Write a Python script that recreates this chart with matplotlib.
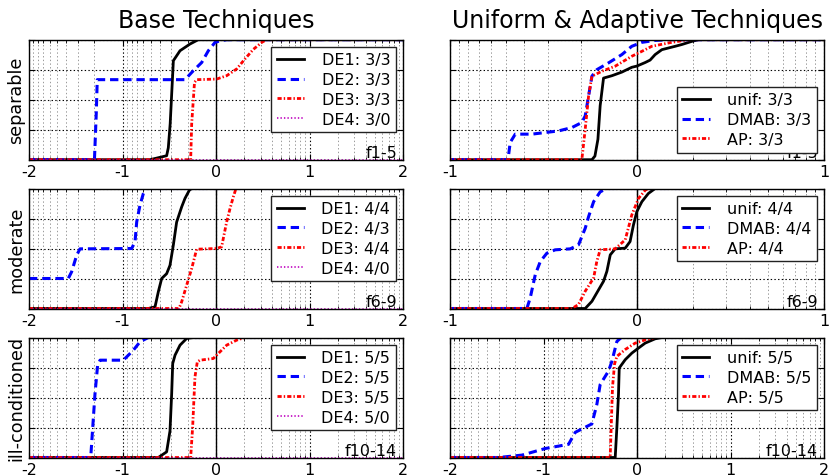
import numpy as np
import matplotlib
matplotlib.use("Agg")
import matplotlib.pyplot as plt

plt.rcParams['font.family'] = ['DejaVu Sans']
plt.rcParams['axes.unicode_minus'] = False
plt.rcParams['lines.scale_dashes'] = False

# ---------------- data (log10 ratio, proportion) ----------------
row_labels = ["separable", "moderate", "ill-conditioned"]
row_tags = ["f1-5", "f6-9", "f10-14"]
col_titles = ["Base Techniques", "Uniform & Adaptive Techniques"]
left_xlims = [(-2, 2), (-2, 2), (-2, 2)]
right_xlims = [(-1, 1), (-1, 1), (-2, 2)]

base_names = ["DE1", "DE2", "DE3", "DE4"]
adapt_names = ["unif", "DMAB", "AP"]
base_counts = [["3/3", "3/3", "3/3", "3/0"],
               ["4/4", "4/3", "4/4", "4/0"],
               ["5/5", "5/5", "5/5", "5/0"]]
adapt_counts = [["3/3", "3/3", "3/3"],
                ["4/4", "4/4", "4/4"],
                ["5/5", "5/5", "5/5"]]

# separable, base
sep_de1_x = [-2.0, -0.706, -0.528, -0.51, -0.49, -0.456, -0.385, -0.278, -0.19, 2.0]
sep_de1_y = [0.0, 0.0, 0.033, 0.10, 0.30, 0.825, 0.908, 0.964, 1.0, 1.0]
sep_de2_x = [-2.0, -1.30, -1.28, -1.27, -0.332, -0.242, -0.153, -0.082, -0.01, 0.043, 0.114, 2.0]
sep_de2_y = [0.0, 0.0, 0.40, 0.667, 0.667, 0.742, 0.81, 0.908, 0.978, 0.99, 1.0, 1.0]
sep_de3_x = [-2.0, -0.271, -0.26, -0.23, -0.207, 0.007, 0.114, 0.221, 0.31, 0.40, 0.49, 0.54, 2.0]
sep_de3_y = [0.0, 0.0, 0.30, 0.644, 0.667, 0.672, 0.70, 0.756, 0.84, 0.92, 0.978, 1.0, 1.0]
sep_de4_x = [-2.0, 2.0]
sep_de4_y = [0.0, 0.0]

# moderate, base
mod_de1_x = [-2.0, -0.724, -0.652, -0.617, -0.581, -0.528, -0.492, -0.456, -0.421, -0.367, -0.332, -0.285, -0.26, 2.0]
mod_de1_y = [0.0, 0.0, 0.014, 0.139, 0.25, 0.29, 0.36, 0.53, 0.72, 0.847, 0.917, 0.986, 1.0, 1.0]
mod_de2_x = [-2.0, -1.58, -1.544, -1.49, -1.455, -0.902, -0.866, -0.848, -0.813, -0.777, -0.749, 2.0]
mod_de2_y = [0.25, 0.25, 0.306, 0.444, 0.497, 0.50, 0.556, 0.722, 0.861, 0.958, 1.0, 1.0]
mod_de3_x = [-2.0, -0.396, -0.367, -0.314, -0.26, -0.207, 0.007, 0.06, 0.114, 0.15, 0.185, 0.214, 2.0]
mod_de3_y = [0.0, 0.0, 0.056, 0.194, 0.333, 0.494, 0.50, 0.514, 0.722, 0.833, 0.93, 1.0, 1.0]
mod_de4_x = [-2.0, 2.0]
mod_de4_y = [0.0, 0.0]

# ill-conditioned, base
ill_de1_x = [-2.0, -0.617, -0.528, -0.492, -0.474, -0.463, -0.438, -0.385, -0.314, -0.242, 2.0]
ill_de1_y = [0.0, 0.0, 0.047, 0.222, 0.533, 0.783, 0.853, 0.936, 0.992, 1.0, 1.0]
ill_de2_x = [-2.0, -1.34, -1.294, -1.266, -1.24, -0.991, -0.884, -0.813, -0.724, 2.0]
ill_de2_y = [0.0, 0.0, 0.533, 0.769, 0.811, 0.811, 0.894, 0.964, 1.0, 1.0]
ill_de3_x = [-2.0, -0.271, -0.25, -0.225, -0.2, -0.171, -0.029, 0.007, 0.114, 0.221, 0.31, 2.0]
ill_de3_y = [0.0, 0.0, 0.25, 0.672, 0.797, 0.811, 0.825, 0.853, 0.936, 0.978, 1.0, 1.0]
ill_de4_x = [-2.0, 2.0]
ill_de4_y = [0.0, 0.0]

# separable, adaptive
sep_unif_x = [-2.0, -0.241, -0.225, -0.209, -0.197, -0.179, -0.134, -0.081, -0.028, -0.001, 0.044, 0.07, 0.097, 0.133, 0.204, 0.24, 0.293, 0.329, 2.0]
sep_unif_y = [0.0, 0.0, 0.03, 0.17, 0.45, 0.68, 0.70, 0.73, 0.77, 0.78, 0.81, 0.83, 0.876, 0.917, 0.945, 0.96, 0.986, 1.0, 1.0]
sep_dmab_x = [-2.0, -0.69, -0.678, -0.651, -0.562, -0.419, -0.348, -0.295, -0.277, -0.259, -0.241, -0.215, -0.152, -0.081, -0.028, 0.026, 0.097, 0.168, 2.0]
sep_dmab_y = [0.0, 0.0, 0.144, 0.213, 0.213, 0.24, 0.268, 0.31, 0.365, 0.53, 0.696, 0.75, 0.807, 0.876, 0.945, 0.978, 0.994, 1.0, 1.0]
sep_ap_x = [-2.0, -0.295, -0.277, -0.259, -0.241, -0.188, -0.117, -0.028, 0.026, 0.079, 0.186, 0.275, 2.0]
sep_ap_y = [0.0, 0.0, 0.254, 0.53, 0.696, 0.737, 0.779, 0.862, 0.903, 0.945, 0.978, 1.0, 1.0]

# moderate, adaptive
mod_unif_x = [-2.0, -0.277, -0.241, -0.215, -0.179, -0.161, -0.143, -0.117, -0.063, -0.037, -0.019, -0.001, 0.026, 0.061, 0.097, 2.0]
mod_unif_y = [0.0, 0.0, 0.06, 0.13, 0.227, 0.31, 0.447, 0.497, 0.503, 0.558, 0.696, 0.807, 0.89, 0.959, 1.0, 1.0]
mod_dmab_x = [-2.0, -0.589, -0.571, -0.544, -0.517, -0.482, -0.437, -0.357, -0.313, -0.277, -0.259, -0.232, -0.197, -0.161, 2.0]
mod_dmab_y = [0.0, 0.0, 0.088, 0.282, 0.392, 0.461, 0.489, 0.497, 0.53, 0.668, 0.765, 0.89, 0.972, 1.0, 1.0]
mod_ap_x = [-2.0, -0.348, -0.313, -0.277, -0.232, -0.215, -0.197, -0.117, -0.063, -0.028, 0.008, 0.044, 0.061, 2.0]
mod_ap_y = [0.0, 0.0, 0.033, 0.144, 0.254, 0.392, 0.489, 0.497, 0.572, 0.779, 0.917, 0.986, 1.0, 1.0]

# ill-conditioned, adaptive
ill_unif_x = [-2.0, -0.233, -0.215, -0.198, -0.19, -0.126, -0.055, 0.016, 0.087, 0.194, 0.265, 2.0]
ill_unif_y = [0.0, 0.0, 0.254, 0.525, 0.746, 0.815, 0.87, 0.912, 0.953, 0.989, 1.0, 1.0]
ill_dmab_x = [-2.0, -1.48, -1.23, -0.981, -0.732, -0.66, -0.483, -0.43, -0.394, -0.305, -0.269, -0.215, -0.169, 2.0]
ill_dmab_y = [0.0, 0.0, 0.02, 0.075, 0.11, 0.21, 0.28, 0.44, 0.608, 0.72, 0.80, 0.967, 1.0, 1.0]
ill_ap_x = [-2.0, -0.287, -0.276, -0.262, -0.24, -0.215, -0.126, -0.02, 0.087, 0.194, 2.0]
ill_ap_y = [0.0, 0.0, 0.254, 0.586, 0.78, 0.843, 0.90, 0.953, 0.98, 1.0, 1.0]

base_rows = [
    [(sep_de1_x, sep_de1_y), (sep_de2_x, sep_de2_y), (sep_de3_x, sep_de3_y), (sep_de4_x, sep_de4_y)],
    [(mod_de1_x, mod_de1_y), (mod_de2_x, mod_de2_y), (mod_de3_x, mod_de3_y), (mod_de4_x, mod_de4_y)],
    [(ill_de1_x, ill_de1_y), (ill_de2_x, ill_de2_y), (ill_de3_x, ill_de3_y), (ill_de4_x, ill_de4_y)],
]
adapt_rows = [
    [(sep_unif_x, sep_unif_y), (sep_dmab_x, sep_dmab_y), (sep_ap_x, sep_ap_y)],
    [(mod_unif_x, mod_unif_y), (mod_dmab_x, mod_dmab_y), (mod_ap_x, mod_ap_y)],
    [(ill_unif_x, ill_unif_y), (ill_dmab_x, ill_dmab_y), (ill_ap_x, ill_ap_y)],
]
adapt_legend_loc = ["lower right", "upper right", "upper right"]

styles = [
    dict(color='k', linestyle='-', linewidth=2.0),
    dict(color='b', linestyle=(0, (6, 3.5)), linewidth=2.2),
    dict(color='r', linestyle=(0, (3, 1.5, 1, 1.5)), linewidth=2.0),
    dict(color='m', linestyle=(0, (1, 1.5)), linewidth=1.2),
]

# ---------------- figure ----------------
W, H = 831, 477
fig = plt.figure(figsize=(W / 100, H / 100), dpi=100)

col_x0 = [29 / W, 450 / W]
ax_w = 374 / W
row_top = [40.7, 189.5, 338.5]
ax_h = 120 / H

FS = 11.5


def minor_positions(lo, hi):
    pos = []
    for n in range(0, 4):
        for k in range(2, 10):
            v = n + np.log10(k)
            pos += [v, -v]
    return sorted(p for p in pos if lo < p < hi)


def style_axes(ax, xlim):
    lo, hi = xlim
    ax.set_xlim(lo, hi)
    ax.set_ylim(0, 1)
    ax.set_xticks(np.arange(lo, hi + 1))
    ax.set_xticklabels([str(int(v)) for v in np.arange(lo, hi + 1)])
    ax.set_xticks(minor_positions(lo, hi), minor=True)
    ax.set_yticks([0, 0.25, 0.5, 0.75, 1.0])
    ax.set_yticklabels([])
    ax.tick_params(which='both', direction='in', top=True, right=True,
                   labelsize=FS, pad=3.3)
    ax.tick_params(which='major', length=4.5, width=0.8)
    ax.tick_params(which='minor', length=2.5, width=0.6)
    ax.grid(True, which='major', color='k', linestyle=':', linewidth=0.8)
    ax.grid(True, which='minor', axis='x', color='#999999', linestyle=':', linewidth=0.7)
    for sp in ax.spines.values():
        sp.set_linewidth(1.0)
    ax.axvline(0, color='k', linewidth=1.0, zorder=1.5)


for r in range(3):
    y0 = (H - row_top[r]) / H - ax_h
    # left column
    axL = fig.add_axes([col_x0[0], y0, ax_w, ax_h])
    style_axes(axL, left_xlims[r])
    for i, (xs, ys) in enumerate(base_rows[r]):
        axL.plot(xs, ys, label=f"{base_names[i]}: {base_counts[r][i]}", **styles[i])
    axL.text(0.984, 0.022, row_tags[r], transform=axL.transAxes, ha='right',
             va='baseline', fontsize=FS)
    lg = axL.legend(loc='upper right', fontsize=FS, fancybox=False, framealpha=1,
                    edgecolor='#222222', borderpad=0.35, labelspacing=0.3,
                    handlelength=1.7, handletextpad=1.1, borderaxespad=0.45)
    lg.get_frame().set_linewidth(1.0)
    axL.set_ylabel(row_labels[r], fontsize=12.7)
    axL.yaxis.set_label_coords(-0.011, 0.5)
    if r == 0:
        axL.set_title(col_titles[0], fontsize=17, pad=9)

    # right column
    axR = fig.add_axes([col_x0[1], y0, ax_w, ax_h])
    style_axes(axR, right_xlims[r])
    for i, (xs, ys) in enumerate(adapt_rows[r]):
        axR.plot(xs, ys, label=f"{adapt_names[i]}: {adapt_counts[r][i]}", **styles[i])
    axR.text(0.984, 0.022, row_tags[r], transform=axR.transAxes, ha='right',
             va='baseline', fontsize=FS)
    lg = axR.legend(loc=adapt_legend_loc[r], fontsize=FS, fancybox=False, framealpha=1,
                    edgecolor='#222222', borderpad=0.35, labelspacing=0.3,
                    handlelength=1.7, handletextpad=1.1, borderaxespad=0.45)
    lg.get_frame().set_linewidth(1.0)
    if r == 0:
        axR.set_title(col_titles[1], fontsize=17, pad=9)

fig.savefig("out.png", dpi=100)
